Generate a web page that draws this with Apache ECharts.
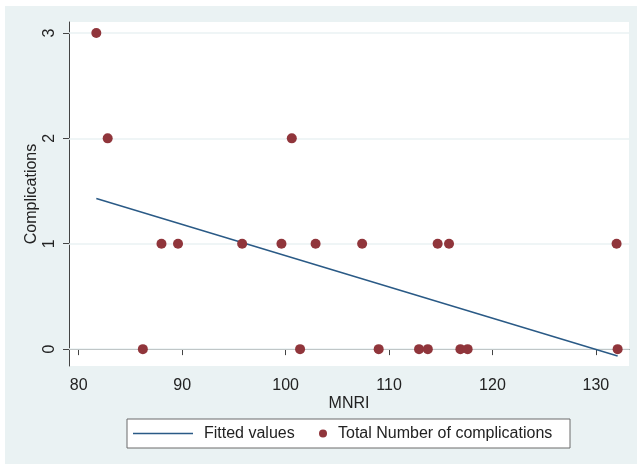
<!DOCTYPE html>
<html>
<head>
<meta charset="utf-8">
<script src="https://cdn.jsdelivr.net/npm/echarts@6/dist/echarts.min.js"></script>
<style>
html,body{margin:0;padding:0;background:#fff;}
#chart{width:637px;height:464px;}
</style>
</head>
<body>
<div id="chart"></div>
<script>
// Data
const mnri = [81.7, 82.8, 100.6, 88.0, 89.6, 95.8, 99.6, 102.9, 107.4, 114.7, 115.8, 132.0,
              86.2, 101.4, 109.0, 112.9, 113.75, 116.9, 117.6, 132.1];
const complications = [3, 2, 2, 1, 1, 1, 1, 1, 1, 1, 1, 1,
                       0, 0, 0, 0, 0, 0, 0, 0];
const fitX = [81.7, 132.1];
const fitY = [1.43, -0.065];
const xTicks = [80, 90, 100, 110, 120, 130];
const yTicks = [0, 1, 2, 3];

const FONT = '"Liberation Sans", Arial, sans-serif';
const chart = echarts.init(document.getElementById('chart'), null, {renderer: 'canvas'});

const scatterData = mnri.map((x, i) => [x, complications[i]]);
const fitData = fitX.map((x, i) => [x, fitY[i]]);
const LINE_COLOR = '#2a5a86';

chart.setOption({
  backgroundColor: '#ffffff',
  animation: false,
  textStyle: {fontFamily: FONT},
  graphic: [
    {type: 'rect', z: -100, silent: true,
     shape: {x: 5, y: 6, width: 632, height: 458},
     style: {fill: '#eaf2f3'}},
    {type: 'rect', z: 1, silent: true,
     shape: {x: 127, y: 419, width: 443, height: 29},
     style: {fill: '#ffffff', stroke: '#6b6b6b', lineWidth: 1}}
  ],
  grid: {
    left: 69, top: 22, right: 8, bottom: 98,
    show: true, backgroundColor: '#ffffff', borderWidth: 0
  },
  xAxis: {
    type: 'value', min: 79.06, max: 133.2,
    name: 'MNRI', nameLocation: 'middle', nameGap: 30, nameMoveOverlap: false,
    nameTextStyle: {fontSize: 16, color: '#222', fontFamily: FONT},
    axisLine: {show: true, lineStyle: {color: '#444', width: 1}},
    axisTick: {show: true, length: 6, lineStyle: {color: '#444'}, customValues: xTicks},
    axisLabel: {fontSize: 16, color: '#222', margin: 12, customValues: xTicks, fontFamily: FONT},
    splitLine: {show: false}
  },
  yAxis: {
    type: 'value', min: -0.16, max: 3.104,
    name: 'Complications', nameLocation: 'middle', nameGap: 29, nameRotate: 90, nameMoveOverlap: false,
    nameTextStyle: {fontSize: 16, color: '#222', fontFamily: FONT},
    axisLine: {show: true, lineStyle: {color: '#444', width: 1}},
    axisTick: {show: true, length: 6, lineStyle: {color: '#444'}, customValues: yTicks},
    axisLabel: {fontSize: 16, color: '#222', margin: 11, rotate: 90, customValues: yTicks, fontFamily: FONT},
    splitLine: {show: false}
  },
  legend: [
    {
      data: [{name: 'Fitted values', icon: 'rect'}], left: 133, top: 424.5, padding: 0, z: 5,
      itemWidth: 60, itemHeight: 1.5,
      itemStyle: {color: LINE_COLOR, borderWidth: 0},
      textStyle: {fontSize: 16, color: '#222', lineHeight: 18, padding: [0, 0, 0, 6], fontFamily: FONT}
    },
    {
      data: [{name: 'Total Number of complications', icon: 'circle'}], left: 319, top: 424.5, padding: 0, z: 5,
      itemWidth: 8, itemHeight: 8,
      textStyle: {fontSize: 16, color: '#222', lineHeight: 18, padding: [0, 0, 0, 6], fontFamily: FONT}
    }
  ],
  series: [
    {
      name: 'Fitted values', type: 'line', data: fitData,
      showSymbol: false, symbol: 'none',
      lineStyle: {color: LINE_COLOR, width: 1.5},
      itemStyle: {color: LINE_COLOR},
      z: 3
    },
    {
      name: 'Total Number of complications', type: 'scatter', data: scatterData,
      symbol: 'circle', symbolSize: 10,
      itemStyle: {color: '#90353b', opacity: 1},
      z: 4,
      markLine: {
        silent: true, symbol: 'none', label: {show: false},
        lineStyle: {color: '#eaf2f3', width: 1.5, type: 'solid'},
        data: yTicks.map(v => ({yAxis: v})),
        z: 1
      }
    }
  ]
});
</script>
</body>
</html>
